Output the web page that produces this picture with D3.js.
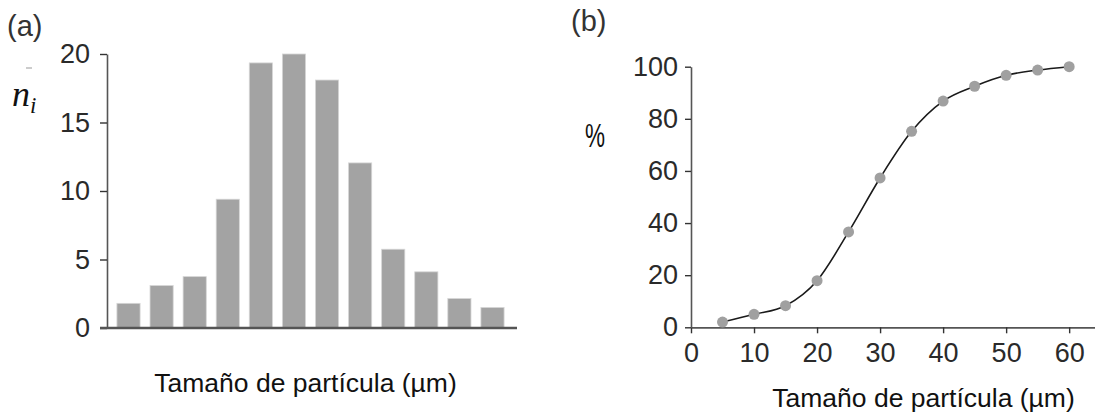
<!DOCTYPE html>
<html>
<head>
<meta charset="utf-8">
<script src="https://cdn.jsdelivr.net/npm/d3@7"></script>
<style>
  html, body { margin: 0; padding: 0; background: #fff; }
  svg { display: block; }
</style>
</head>
<body>
<svg id="chart" width="1095" height="415"></svg>
<script>
// (a) number of particles per size class
const sizeBins = ["0-5", "5-10", "10-15", "15-20", "20-25", "25-30",
                  "30-35", "35-40", "40-45", "45-50", "50-55", "55-60"];
const counts = [1.8, 3.1, 3.75, 9.4, 19.35, 20.0, 18.1, 12.05, 5.75, 4.1, 2.15, 1.5];
const countTicks = [0, 5, 10, 15, 20];

// (b) cumulative percentage vs particle size
const sizes = [5, 10, 15, 20, 25, 30, 35, 40, 45, 50, 55, 60];
const cumulative = [2.0, 5.0, 8.3, 17.9, 36.6, 57.3, 75.2, 86.8, 92.5, 96.7, 98.7, 100];
const sizeTicks = [0, 10, 20, 30, 40, 50, 60];
const percentTicks = [0, 20, 40, 60, 80, 100];

const xLabel = "Tamaño de partícula (µm)";

const sans = "'Liberation Sans', Arial, sans-serif";
const serif = "'Liberation Serif', 'DejaVu Serif', serif";

const svg = d3.select("#chart").style("font-family", sans);
const axisColor = "#555";
const tickText = "#2a2a2a";
const tickSize = 27;

function styleAxis(g, domainWidth) {
  g.attr("font-family", null).attr("font-size", null);
  g.select(".domain").attr("stroke", axisColor).attr("stroke-width", domainWidth);
  g.selectAll(".tick line").attr("stroke", "#333").attr("stroke-width", 1.4);
  g.selectAll(".tick text")
    .style("font-family", sans)
    .style("font-size", tickSize + "px")
    .attr("fill", tickText);
}

// ---------- panel (a): histogram ----------
const xa = d3.scaleBand().domain(sizeBins).range([107, 514]).paddingInner(0.3).paddingOuter(0.3);
const ya = d3.scaleLinear().domain([0, 20]).range([328, 54]);

const ga = svg.append("g");

ga.selectAll("rect.bar")
  .data(counts)
  .join("rect")
  .attr("class", "bar")
  .attr("x", (d, i) => xa(sizeBins[i]))
  .attr("width", xa.bandwidth())
  .attr("y", d => ya(d))
  .attr("height", d => ya(0) - ya(d))
  .attr("fill", "#a3a3a3")
  .attr("stroke", "#d6d6d6")
  .attr("stroke-width", 0.8);

const yAxisA = ga.append("g")
  .attr("transform", "translate(107,0)")
  .call(d3.axisLeft(ya).tickValues(countTicks).tickSizeInner(7).tickSizeOuter(0).tickPadding(10));
styleAxis(yAxisA, 1.6);

// baseline of the histogram
ga.append("line")
  .attr("x1", 100).attr("x2", 517)
  .attr("y1", ya(0)).attr("y2", ya(0))
  .attr("stroke", axisColor).attr("stroke-width", 2.6);

ga.append("text")
  .attr("x", 7).attr("y", 36)
  .style("font-size", "29px").attr("fill", "#333")
  .text("(a)");

// axis symbol n_i
const ni = ga.append("text")
  .attr("x", 12).attr("y", 106)
  .style("font-family", serif)
  .style("font-style", "italic")
  .attr("fill", "#111");
ni.append("tspan").style("font-size", "36px").text("n");
ni.append("tspan").style("font-size", "23px").attr("dy", 7).text("i");

ga.append("line")
  .attr("x1", 26).attr("x2", 32).attr("y1", 68).attr("y2", 68)
  .attr("stroke", "#999").attr("stroke-width", 1);

ga.append("text")
  .attr("x", (153 + 458) / 2).attr("y", 392)
  .attr("text-anchor", "middle")
  .style("font-size", "26.5px").attr("fill", "#111")
  .text(xLabel);

// ---------- panel (b): cumulative curve ----------
const xb = d3.scaleLinear().domain([0, 64.1]).range([691, 1095]);
const yb = d3.scaleLinear().domain([0, 100]).range([327.3, 66.7]);

const gb = svg.append("g");

const xAxisB = gb.append("g")
  .attr("transform", `translate(0,${yb(0)})`)
  .call(d3.axisBottom(xb).tickValues(sizeTicks).tickSizeInner(6).tickSizeOuter(0).tickPadding(10));
styleAxis(xAxisB, 1.8);

const yAxisB = gb.append("g")
  .attr("transform", `translate(${xb(0)},0)`)
  .call(d3.axisLeft(yb).tickValues(percentTicks).tickSizeInner(6).tickSizeOuter(0).tickPadding(7));
styleAxis(yAxisB, 1.6);

const pts = sizes.map((s, i) => [s, cumulative[i]]);

gb.append("path")
  .datum(pts)
  .attr("fill", "none")
  .attr("stroke", "#1a1a1a")
  .attr("stroke-width", 1.6)
  .attr("d", d3.line().x(d => xb(d[0])).y(d => yb(d[1])).curve(d3.curveMonotoneX));

gb.selectAll("circle.pt")
  .data(pts)
  .join("circle")
  .attr("class", "pt")
  .attr("cx", d => xb(d[0]))
  .attr("cy", d => yb(d[1]))
  .attr("r", 5.5)
  .attr("fill", "#a0a0a0");

gb.append("text")
  .attr("x", 571).attr("y", 31)
  .style("font-size", "29px").attr("fill", "#333")
  .text("(b)");

gb.append("text")
  .attr("x", 585).attr("y", 147)
  .style("font-size", "33px")
  .attr("textLength", 20).attr("lengthAdjust", "spacingAndGlyphs")
  .attr("fill", "#111")
  .text("%");

gb.append("text")
  .attr("x", (772 + 1075) / 2).attr("y", 407)
  .attr("text-anchor", "middle")
  .style("font-size", "26.5px").attr("fill", "#111")
  .text(xLabel);
</script>
</body>
</html>
